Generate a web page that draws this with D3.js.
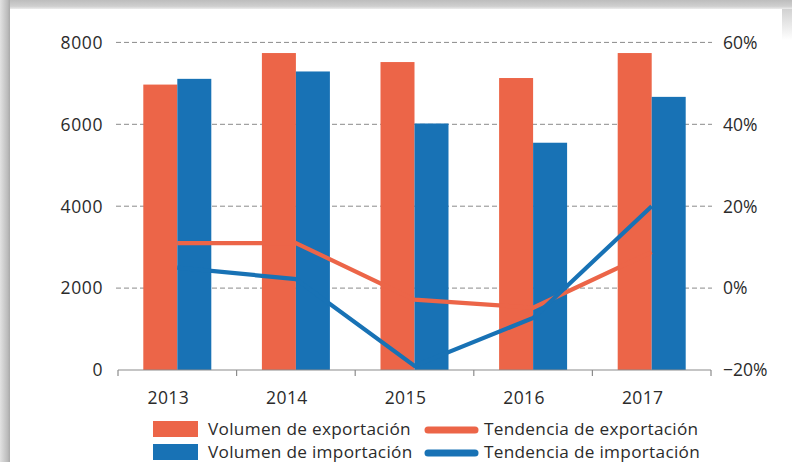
<!DOCTYPE html>
<html>
<head>
<meta charset="utf-8">
<script src="https://cdn.jsdelivr.net/npm/d3@7"></script>
<style>
  html, body { margin: 0; padding: 0; background: #fff; }
  svg { display: block; }
  text { font-family: "Open Sans", "Noto Sans", sans-serif; fill: #2b2b2b; }
</style>
</head>
<body>
<svg id="chart" width="792" height="462"></svg>
<script>
// Years on the category axis
const years = ["2013", "2014", "2015", "2016", "2017"];
// Trade volumes (left axis)
const exportVolume = [6970, 7740, 7520, 7130, 7740];
const importVolume = [7110, 7290, 6020, 5550, 6670];
// Year-on-year trend (right axis, fraction)
const exportTrend = [0.11, 0.11, -0.028, -0.048, 0.088];
const importTrend = [0.05, 0.022, -0.19, -0.073, 0.20];
// Axis ticks
const leftTicks = [0, 2000, 4000, 6000, 8000];
const rightTicks = [-0.2, 0, 0.2, 0.4, 0.6];
// Legend entries
const legendBars = ["Volumen de exportación", "Volumen de importación"];
const legendLines = ["Tendencia de exportación", "Tendencia de importación"];

const ORANGE = "#EC6548";
const BLUE = "#1872B5";

const svg = d3.select("#chart");

// Frame shadow along the top and left edges
const defs = svg.append("defs");
const gTop = defs.append("linearGradient").attr("id", "shTop").attr("x1", 0).attr("y1", 0).attr("x2", 0).attr("y2", 1);
gTop.append("stop").attr("offset", "0%").attr("stop-color", "#bdbdbd");
gTop.append("stop").attr("offset", "70%").attr("stop-color", "#cfcfcf");
gTop.append("stop").attr("offset", "100%").attr("stop-color", "#ececec");
const gLeft = defs.append("linearGradient").attr("id", "shLeft").attr("x1", 0).attr("y1", 0).attr("x2", 1).attr("y2", 0);
gLeft.append("stop").attr("offset", "0%").attr("stop-color", "#e2e2e2");
gLeft.append("stop").attr("offset", "75%").attr("stop-color", "#bcbcbc");
gLeft.append("stop").attr("offset", "100%").attr("stop-color", "#a9a9a9");
const gRight = defs.append("linearGradient").attr("id", "shRight").attr("x1", 0).attr("y1", 0).attr("x2", 0).attr("y2", 1);
gRight.append("stop").attr("offset", "0%").attr("stop-color", "#c4c4c4");
gRight.append("stop").attr("offset", "100%").attr("stop-color", "#ffffff");

svg.append("rect").attr("x", 0).attr("y", 0).attr("width", 792).attr("height", 462).attr("fill", "#fff");
svg.append("rect").attr("x", 782).attr("y", 0).attr("width", 10).attr("height", 40).attr("fill", "url(#shRight)");
svg.append("rect").attr("x", 0).attr("y", 0).attr("width", 792).attr("height", 9).attr("fill", "url(#shTop)");
svg.append("rect").attr("x", 0).attr("y", 0).attr("width", 10).attr("height", 462).attr("fill", "url(#shLeft)");

// Scales
const x = d3.scaleBand().domain(years).range([118, 711]);
const groupW = 68;
const xSub = d3.scaleBand().domain(["exp", "imp"]).range([0, groupW]);
const yL = d3.scaleLinear().domain([0, 8000]).range([370, 42.4]);
const yR = d3.scaleLinear().domain([-0.2, 0.6]).range([370, 42.4]);
const groupX = d => x(d) + (x.bandwidth() - groupW) / 2;
const cx = d => x(d) + x.bandwidth() / 2;

// Dashed gridlines
svg.append("g").selectAll("line")
  .data(leftTicks.filter(t => t > 0))
  .join("line")
  .attr("x1", 116).attr("x2", 712)
  .attr("y1", d => yL(d)).attr("y2", d => yL(d))
  .attr("stroke", "#8a8a8a").attr("stroke-width", 1)
  .attr("stroke-dasharray", "5,3");

// Left axis labels
svg.append("g").selectAll("text")
  .data(leftTicks)
  .join("text")
  .attr("x", 103).attr("y", d => yL(d))
  .attr("dy", "0.36em")
  .attr("text-anchor", "end")
  .attr("font-size", 17.5)
  .attr("letter-spacing", 0.6)
  .text(d => d3.format("d")(d));

// Right axis labels
svg.append("g").selectAll("text")
  .data(rightTicks)
  .join("text")
  .attr("x", 723).attr("y", d => yR(d))
  .attr("dy", "0.36em")
  .attr("text-anchor", "start")
  .attr("font-size", 17.5)
  .text(d => d3.format(".0%")(d));

// Bars
const bars = svg.append("g");
bars.selectAll("rect.exp")
  .data(years)
  .join("rect").attr("class", "exp")
  .attr("x", d => groupX(d) + xSub("exp"))
  .attr("width", xSub.bandwidth())
  .attr("y", (d, i) => yL(exportVolume[i]))
  .attr("height", (d, i) => yL(0) - yL(exportVolume[i]))
  .attr("fill", ORANGE);
bars.selectAll("rect.imp")
  .data(years)
  .join("rect").attr("class", "imp")
  .attr("x", d => groupX(d) + xSub("imp"))
  .attr("width", xSub.bandwidth())
  .attr("y", (d, i) => yL(importVolume[i]))
  .attr("height", (d, i) => yL(0) - yL(importVolume[i]))
  .attr("fill", BLUE);

// Category axis
const xAxis = d3.axisBottom(x).tickSize(0).tickFormat("");
const axG = svg.append("g").attr("transform", `translate(0,${yL(0)})`).call(xAxis);
axG.select(".domain").remove();
axG.append("line").attr("x1", 118).attr("x2", 711).attr("y1", 0).attr("y2", 0)
  .attr("stroke", "#8c8c8c").attr("stroke-width", 1.2);
const bounds = years.map(d => x(d)).concat([x(years[years.length - 1]) + x.bandwidth()]);
axG.selectAll("line.tk")
  .data(bounds)
  .join("line").attr("class", "tk")
  .attr("x1", d => d).attr("x2", d => d)
  .attr("y1", 0).attr("y2", 6)
  .attr("stroke", "#8c8c8c").attr("stroke-width", 1.2);
svg.append("g").selectAll("text")
  .data(years)
  .join("text")
  .attr("x", d => cx(d) - 9)
  .attr("y", 404)
  .attr("text-anchor", "middle")
  .attr("font-size", 17.5)
  .attr("letter-spacing", 0.4)
  .text(d => d);

// Trend lines
const line = d3.line().x(d => cx(d.year)).y(d => yR(d.v));
svg.append("path")
  .datum(years.map((y, i) => ({ year: y, v: exportTrend[i] })))
  .attr("d", line)
  .attr("fill", "none").attr("stroke", ORANGE).attr("stroke-width", 4.2);
svg.append("path")
  .datum(years.map((y, i) => ({ year: y, v: importTrend[i] })))
  .attr("d", line)
  .attr("fill", "none").attr("stroke", BLUE).attr("stroke-width", 4.2);

// Legend
const lg = svg.append("g");
legendBars.forEach((t, i) => {
  lg.append("rect").attr("x", 153).attr("y", 421 + i * 23).attr("width", 45).attr("height", 16)
    .attr("fill", i === 0 ? ORANGE : BLUE);
  lg.append("text").attr("x", 208).attr("y", 435 + i * 23).attr("font-size", 17.2)
    .attr("letter-spacing", 0.3).text(t);
});
legendLines.forEach((t, i) => {
  lg.append("line").attr("x1", 428).attr("x2", 475).attr("y1", 430 + i * 23).attr("y2", 430 + i * 23)
    .attr("stroke", i === 0 ? ORANGE : BLUE).attr("stroke-width", 7).attr("stroke-linecap", "round");
  lg.append("text").attr("x", 484).attr("y", 435 + i * 23).attr("font-size", 17.2)
    .attr("letter-spacing", 0.3).text(t);
});
</script>
</body>
</html>
